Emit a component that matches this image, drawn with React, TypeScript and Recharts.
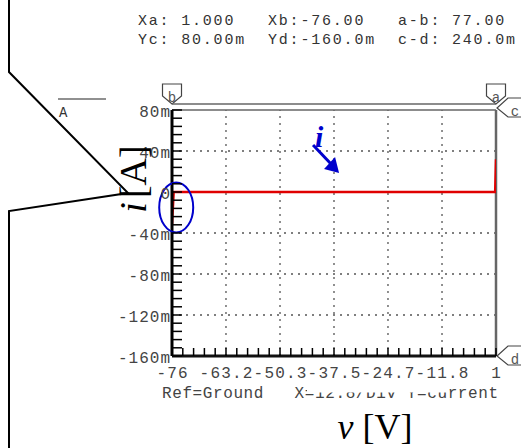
import { LineChart, Line, XAxis, YAxis, ReferenceLine, ReferenceDot } from "recharts";

// measured trace: voltage (V) vs current (A)
const voltage = [-76, -75.6, 0.8, 1];
const current = [-0.032, 0, 0, 0.032];

const xTicks = [-76, -63.17, -50.33, -37.5, -24.67, -11.83, 1];
const xTickLabels = ["-76", "-63.2", "-50.3", "-37.5", "-24.7", "-11.8", "1"];
const yTicks = [-0.16, -0.12, -0.08, -0.04, 0, 0.04, 0.08];
const yTickLabels = ["-160m", "-120m", "-80m", "-40m", "0", "40m", "80m"];

const headerTop = ["Xa: 1.000", "Xb:-76.00", "a-b: 77.00"];
const headerBottom = ["Yc: 80.00m", "Yd:-160.0m", "c-d: 240.0m"];
const footer = "Ref=Ground   X=12.8/Div Y=current";

const data = voltage.map((v, i) => ({ v, i: current[i] }));

// 5 minor ticks per division
const xMinor = xTicks.flatMap((t, k) =>
  k < xTicks.length - 1 ? [0, 1, 2, 3, 4].map((s) => t + ((xTicks[k + 1] - t) * s) / 5) : [t]
);
const yMinor = yTicks.flatMap((t, k) =>
  k < yTicks.length - 1
    ? [0, 1, 2, 3, 4].map((s) => Math.round((t + ((yTicks[k + 1] - t) * s) / 5) * 1000) / 1000)
    : [t]
);

const mono = "'Liberation Mono', 'DejaVu Sans Mono', monospace";
const serif = "'Liberation Serif', 'DejaVu Serif', serif";

function XTick(props: any) {
  const { x, y, index } = props;
  const major = index % 5 === 0;
  return (
    <g>
      <line x1={x} y1={y} x2={x} y2={y - 8} stroke="#000" strokeWidth={1.5} />
      {major && (
        <text x={x + 0.6} y={y + 22} textAnchor="middle" fontFamily={mono} fontSize={16} letterSpacing={1.2} fill="#444">
          {xTickLabels[index / 5]}
        </text>
      )}
    </g>
  );
}

function YTick(props: any) {
  const { x, y, index } = props;
  const major = index % 5 === 0;
  return (
    <g>
      <line x1={x} y1={y} x2={x + 10} y2={y} stroke="#000" strokeWidth={1.5} />
      {major && (
        <text x={x - 1} y={y + 6.5} textAnchor="end" fontFamily={mono} fontSize={16} letterSpacing={1} fill="#444">
          {yTickLabels[index / 5]}
        </text>
      )}
    </g>
  );
}

function TopCursor(props: any) {
  const { cx, cy, name } = props;
  const tip = cy - 6;
  return (
    <g>
      <path
        d={`M${cx - 9.5},${tip - 20} H${cx + 9.5} V${tip - 8} L${cx},${tip} L${cx - 9.5},${tip - 8} Z`}
        fill="#fff"
        stroke="#444"
        strokeWidth={1.2}
      />
      <text x={cx} y={tip - 2} textAnchor="middle" fontFamily={mono} fontSize={14} fill="#555">
        {name}
      </text>
    </g>
  );
}

function SideCursor(props: any) {
  const { cx, cy, name, lift } = props;
  const tx = cx + 1;
  const ty = cy - lift;
  return (
    <g>
      <path
        d={`M${cx + 25},${ty - 10} H${tx + 11} L${tx},${ty} L${tx + 11},${ty + 9} H${cx + 25}`}
        fill="#fff"
        stroke="#444"
        strokeWidth={1.2}
      />
      <text x={tx + 18} y={ty + 8} textAnchor="middle" fontFamily={mono} fontSize={14} fill="#555">
        {name}
      </text>
    </g>
  );
}

function Ellipse(props: any) {
  const { cx, cy } = props;
  return <ellipse cx={cx} cy={cy} rx={17} ry={25} fill="none" stroke="#0000cc" strokeWidth={2} />;
}

function Arrow(props: any) {
  const { cx, cy } = props;
  return (
    <g>
      <line x1={cx - 26} y1={cy - 28} x2={cx - 8} y2={cy - 9} stroke="#0000cc" strokeWidth={3} />
      <path d={`M${cx},${cy} L${cx - 15},${cy - 4} L${cx - 4},${cy - 16} Z`} fill="#0000cc" />
      <text x={cx - 24} y={cy - 26} fontFamily={serif} fontStyle="italic" fontWeight="bold" fontSize={30} fill="#0000cc">
        i
      </text>
    </g>
  );
}

export default function App() {
  return (
    <div style={{ position: "absolute", left: 0, top: 0, width: 521, height: 448, background: "#fff" }}>
      <LineChart width={521} height={448} data={data} margin={{ top: 110, right: 25, bottom: 52, left: 112 }}>
        <XAxis
          dataKey="v"
          type="number"
          domain={[-76, 1]}
          allowDataOverflow
          ticks={xMinor}
          interval={0}
          height={40}
          tickSize={0}
          tickMargin={0}
          tickLine={false}
          tick={<XTick />}
          axisLine={{ stroke: "#111", strokeWidth: 3 }}
        />
        <YAxis
          type="number"
          domain={[-0.16, 0.08]}
          allowDataOverflow
          ticks={yMinor}
          interval={0}
          width={60}
          tickSize={0}
          tickMargin={0}
          tickLine={false}
          tick={<YTick />}
          axisLine={{ stroke: "#000", strokeWidth: 3 }}
        />
        {xTicks.slice(1, -1).map((t) => (
          <ReferenceLine key={`gx${t}`} x={t} stroke="#555" strokeWidth={1.3} strokeDasharray="2 5" />
        ))}
        {yTicks.slice(1, -1).map((t) => (
          <ReferenceLine key={`gy${t}`} y={t} stroke="#555" strokeWidth={1.3} strokeDasharray="2 5" />
        ))}
        <ReferenceLine x={1} stroke="#666" strokeWidth={2.5} />
        <ReferenceLine y={0.08} stroke="#666" strokeWidth={1.5} />
        <Line
          dataKey="i"
          type="linear"
          stroke="#e00000"
          strokeWidth={2.5}
          dot={false}
          isAnimationActive={false}
        />
        <ReferenceDot x={-76} y={0.08} ifOverflow="visible" shape={(p: any) => <TopCursor {...p} name="b" />} />
        <ReferenceDot x={1} y={0.08} ifOverflow="visible" shape={(p: any) => <TopCursor {...p} name="a" />} />
        <ReferenceDot x={1} y={0.08} ifOverflow="visible" shape={(p: any) => <SideCursor {...p} name="c" lift={2} />} />
        <ReferenceDot x={1} y={-0.16} ifOverflow="visible" shape={(p: any) => <SideCursor {...p} name="d" lift={0} />} />
        <ReferenceDot x={-75} y={-0.015} ifOverflow="visible" shape={(p: any) => <Ellipse {...p} />} />
        <ReferenceDot x={-36.3} y={0.0185} ifOverflow="visible" shape={(p: any) => <Arrow {...p} />} />
      </LineChart>
      <svg
        width={521}
        height={448}
        style={{ position: "absolute", left: 0, top: 0, pointerEvents: "none" }}
      >
        <polyline points="9,0 9,72 128,193 9,211 9,448" fill="none" stroke="#000" strokeWidth={2} />
        <line x1={58} y1={99} x2={106} y2={99} stroke="#222" strokeWidth={1.2} />
        <text x={59} y={117} fontFamily={mono} fontSize={14} fill="#333">A</text>
        <line x1={172} y1={104} x2={496} y2={104} stroke="#666" strokeWidth={1.5} />
        {headerTop.map((s, k) => (
          <text key={s} x={138 + k * 130} y={25} fontFamily={mono} fontSize={15} letterSpacing={1.8} fill="#333">{s}</text>
        ))}
        {headerBottom.map((s, k) => (
          <text key={s} x={138 + k * 130} y={44} fontFamily={mono} fontSize={15} letterSpacing={1.8} fill="#333">{s}</text>
        ))}
        <text x={162} y={398} fontFamily={mono} fontSize={16} letterSpacing={0.6} fill="#444" style={{ whiteSpace: "pre" }}>
          {footer}
        </text>
        <rect x={307} y={380} width={141} height={12.5} fill="#fff" />
        <text x={375} y={439} textAnchor="middle" fontFamily={serif} fontSize={36} fill="#000">
          <tspan fontStyle="italic">v</tspan> [V]
        </text>
        <text transform="translate(146,179) rotate(-90)" textAnchor="middle" fontFamily={serif} fontSize={38} fill="#000">
          <tspan fontStyle="italic">i</tspan>
          <tspan dx={4}>[A]</tspan>
        </text>
      </svg>
    </div>
  );
}
